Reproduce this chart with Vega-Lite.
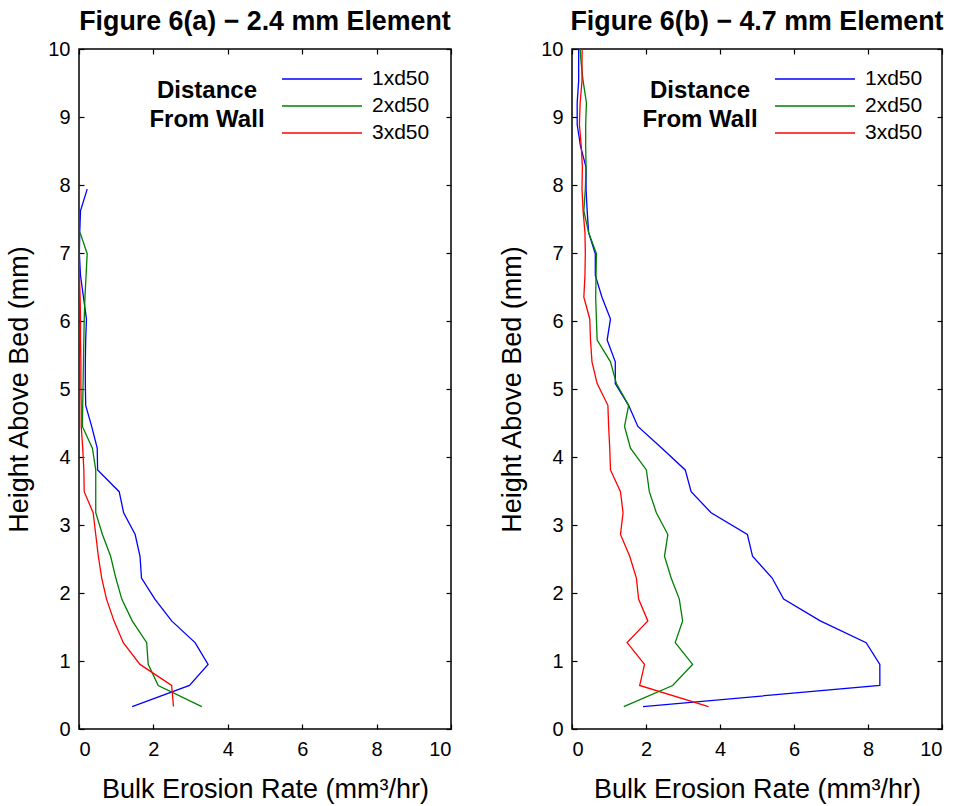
{
  "$schema": "https://vega.github.io/schema/vega-lite/v6.json",
  "background": "white",
  "padding": {"left": 5, "top": 8, "right": 5, "bottom": 2},
  "config": {
    "font": "Liberation Sans",
    "view": {"stroke": "black", "strokeWidth": 1.5},
    "axis": {"grid": false, "domain": false, "tickSize": -5, "tickColor": "black", "tickWidth": 1.2, "labelFontSize": 20, "labelColor": "black", "titleFontSize": 27, "titleFontWeight": "normal", "titleColor": "black"},
    "axisY": {"titlePadding": 14, "labelPadding": 14},
    "axisX": {"titlePadding": 17, "labelPadding": 15},
    "legend": {"orient": "none", "legendX": 70, "legendY": 19, "symbolType": "M-7,0H1", "symbolSize": 400, "symbolStrokeWidth": 1.3, "labelFontSize": 21, "labelColor": "black", "labelOffset": 9, "rowPadding": 6, "titleOrient": "left", "titleFontSize": 24, "titleFontWeight": "bold", "titleColor": "black", "titleAlign": "center", "titleLineHeight": 29, "titlePadding": 18, "titleAnchor": "middle", "titleBaseline": "middle"}
  },
  "datasets": {
    "a": [
      {"s": "1xd50", "h": 0.33, "e": 1.43}, {"s": "1xd50", "h": 0.64, "e": 2.97}, {"s": "1xd50", "h": 0.95, "e": 3.47}, {"s": "1xd50", "h": 1.27, "e": 3.12}, {"s": "1xd50", "h": 1.59, "e": 2.49}, {"s": "1xd50", "h": 1.91, "e": 2.04}, {"s": "1xd50", "h": 2.22, "e": 1.68}, {"s": "1xd50", "h": 2.54, "e": 1.64}, {"s": "1xd50", "h": 2.86, "e": 1.51}, {"s": "1xd50", "h": 3.18, "e": 1.2}, {"s": "1xd50", "h": 3.49, "e": 1.08}, {"s": "1xd50", "h": 3.81, "e": 0.5}, {"s": "1xd50", "h": 4.13, "e": 0.49}, {"s": "1xd50", "h": 4.45, "e": 0.34}, {"s": "1xd50", "h": 4.76, "e": 0.18}, {"s": "1xd50", "h": 5.08, "e": 0.17}, {"s": "1xd50", "h": 5.4, "e": 0.17}, {"s": "1xd50", "h": 5.72, "e": 0.18}, {"s": "1xd50", "h": 6.03, "e": 0.2}, {"s": "1xd50", "h": 6.35, "e": 0.12}, {"s": "1xd50", "h": 6.67, "e": 0.04}, {"s": "1xd50", "h": 6.99, "e": 0.01}, {"s": "1xd50", "h": 7.3, "e": 0.02}, {"s": "1xd50", "h": 7.62, "e": 0.04}, {"s": "1xd50", "h": 7.94, "e": 0.22},
      {"s": "2xd50", "h": 0.33, "e": 3.3}, {"s": "2xd50", "h": 0.64, "e": 2.13}, {"s": "2xd50", "h": 0.95, "e": 1.86}, {"s": "2xd50", "h": 1.27, "e": 1.82}, {"s": "2xd50", "h": 1.59, "e": 1.43}, {"s": "2xd50", "h": 1.91, "e": 1.15}, {"s": "2xd50", "h": 2.22, "e": 0.99}, {"s": "2xd50", "h": 2.54, "e": 0.85}, {"s": "2xd50", "h": 2.86, "e": 0.63}, {"s": "2xd50", "h": 3.18, "e": 0.45}, {"s": "2xd50", "h": 3.49, "e": 0.45}, {"s": "2xd50", "h": 3.81, "e": 0.45}, {"s": "2xd50", "h": 4.13, "e": 0.36}, {"s": "2xd50", "h": 4.45, "e": 0.09}, {"s": "2xd50", "h": 4.76, "e": 0.1}, {"s": "2xd50", "h": 5.08, "e": 0.11}, {"s": "2xd50", "h": 5.4, "e": 0.12}, {"s": "2xd50", "h": 5.72, "e": 0.13}, {"s": "2xd50", "h": 6.03, "e": 0.14}, {"s": "2xd50", "h": 6.35, "e": 0.16}, {"s": "2xd50", "h": 6.67, "e": 0.19}, {"s": "2xd50", "h": 6.99, "e": 0.22}, {"s": "2xd50", "h": 7.3, "e": 0.03},
      {"s": "3xd50", "h": 0.33, "e": 2.54}, {"s": "3xd50", "h": 0.64, "e": 2.49}, {"s": "3xd50", "h": 0.95, "e": 1.64}, {"s": "3xd50", "h": 1.27, "e": 1.19}, {"s": "3xd50", "h": 1.59, "e": 0.94}, {"s": "3xd50", "h": 1.91, "e": 0.74}, {"s": "3xd50", "h": 2.22, "e": 0.61}, {"s": "3xd50", "h": 2.54, "e": 0.52}, {"s": "3xd50", "h": 2.86, "e": 0.45}, {"s": "3xd50", "h": 3.18, "e": 0.38}, {"s": "3xd50", "h": 3.49, "e": 0.14}, {"s": "3xd50", "h": 3.81, "e": 0.13}, {"s": "3xd50", "h": 4.13, "e": 0.1}, {"s": "3xd50", "h": 4.45, "e": 0.06}, {"s": "3xd50", "h": 4.76, "e": 0.06}, {"s": "3xd50", "h": 5.08, "e": 0.05}, {"s": "3xd50", "h": 5.4, "e": 0.05}, {"s": "3xd50", "h": 5.72, "e": 0.04}, {"s": "3xd50", "h": 6.03, "e": 0.04}, {"s": "3xd50", "h": 6.35, "e": 0.03}, {"s": "3xd50", "h": 6.67, "e": 0.01}, {"s": "3xd50", "h": 6.99, "e": 0.0}, {"s": "3xd50", "h": 7.3, "e": 0.0}, {"s": "3xd50", "h": 7.62, "e": 0.0}, {"s": "3xd50", "h": 7.94, "e": 0.0}
    ],
    "b": [
      {"s": "1xd50", "h": 0.33, "e": 1.92}, {"s": "1xd50", "h": 0.64, "e": 8.32}, {"s": "1xd50", "h": 0.95, "e": 8.32}, {"s": "1xd50", "h": 1.27, "e": 7.95}, {"s": "1xd50", "h": 1.59, "e": 6.71}, {"s": "1xd50", "h": 1.91, "e": 5.72}, {"s": "1xd50", "h": 2.22, "e": 5.41}, {"s": "1xd50", "h": 2.54, "e": 4.88}, {"s": "1xd50", "h": 2.86, "e": 4.74}, {"s": "1xd50", "h": 3.18, "e": 3.76}, {"s": "1xd50", "h": 3.49, "e": 3.22}, {"s": "1xd50", "h": 3.81, "e": 3.06}, {"s": "1xd50", "h": 4.13, "e": 2.43}, {"s": "1xd50", "h": 4.45, "e": 1.78}, {"s": "1xd50", "h": 4.76, "e": 1.53}, {"s": "1xd50", "h": 5.08, "e": 1.17}, {"s": "1xd50", "h": 5.4, "e": 1.17}, {"s": "1xd50", "h": 5.72, "e": 0.95}, {"s": "1xd50", "h": 6.03, "e": 1.04}, {"s": "1xd50", "h": 6.35, "e": 0.81}, {"s": "1xd50", "h": 6.67, "e": 0.63}, {"s": "1xd50", "h": 6.99, "e": 0.63}, {"s": "1xd50", "h": 7.3, "e": 0.45}, {"s": "1xd50", "h": 7.62, "e": 0.41}, {"s": "1xd50", "h": 7.94, "e": 0.38}, {"s": "1xd50", "h": 8.26, "e": 0.38}, {"s": "1xd50", "h": 8.57, "e": 0.23}, {"s": "1xd50", "h": 8.89, "e": 0.14}, {"s": "1xd50", "h": 9.21, "e": 0.14}, {"s": "1xd50", "h": 9.53, "e": 0.18}, {"s": "1xd50", "h": 9.84, "e": 0.18}, {"s": "1xd50", "h": 10.16, "e": 0.18},
      {"s": "2xd50", "h": 0.33, "e": 1.4}, {"s": "2xd50", "h": 0.64, "e": 2.72}, {"s": "2xd50", "h": 0.95, "e": 3.26}, {"s": "2xd50", "h": 1.27, "e": 2.79}, {"s": "2xd50", "h": 1.59, "e": 2.99}, {"s": "2xd50", "h": 1.91, "e": 2.9}, {"s": "2xd50", "h": 2.22, "e": 2.68}, {"s": "2xd50", "h": 2.54, "e": 2.5}, {"s": "2xd50", "h": 2.86, "e": 2.59}, {"s": "2xd50", "h": 3.18, "e": 2.28}, {"s": "2xd50", "h": 3.49, "e": 2.09}, {"s": "2xd50", "h": 3.81, "e": 2.01}, {"s": "2xd50", "h": 4.13, "e": 1.58}, {"s": "2xd50", "h": 4.45, "e": 1.42}, {"s": "2xd50", "h": 4.76, "e": 1.53}, {"s": "2xd50", "h": 5.08, "e": 1.2}, {"s": "2xd50", "h": 5.4, "e": 1.04}, {"s": "2xd50", "h": 5.72, "e": 0.68}, {"s": "2xd50", "h": 6.03, "e": 0.66}, {"s": "2xd50", "h": 6.35, "e": 0.64}, {"s": "2xd50", "h": 6.67, "e": 0.65}, {"s": "2xd50", "h": 6.99, "e": 0.66}, {"s": "2xd50", "h": 7.3, "e": 0.45}, {"s": "2xd50", "h": 7.62, "e": 0.32}, {"s": "2xd50", "h": 7.94, "e": 0.36}, {"s": "2xd50", "h": 8.26, "e": 0.38}, {"s": "2xd50", "h": 8.57, "e": 0.37}, {"s": "2xd50", "h": 8.89, "e": 0.37}, {"s": "2xd50", "h": 9.21, "e": 0.39}, {"s": "2xd50", "h": 9.53, "e": 0.3}, {"s": "2xd50", "h": 9.84, "e": 0.24}, {"s": "2xd50", "h": 10.16, "e": 0.2},
      {"s": "3xd50", "h": 0.33, "e": 3.69}, {"s": "3xd50", "h": 0.64, "e": 1.83}, {"s": "3xd50", "h": 0.95, "e": 1.96}, {"s": "3xd50", "h": 1.27, "e": 1.49}, {"s": "3xd50", "h": 1.59, "e": 2.05}, {"s": "3xd50", "h": 1.91, "e": 1.8}, {"s": "3xd50", "h": 2.22, "e": 1.74}, {"s": "3xd50", "h": 2.54, "e": 1.56}, {"s": "3xd50", "h": 2.86, "e": 1.31}, {"s": "3xd50", "h": 3.18, "e": 1.38}, {"s": "3xd50", "h": 3.49, "e": 1.31}, {"s": "3xd50", "h": 3.81, "e": 1.04}, {"s": "3xd50", "h": 4.13, "e": 1.02}, {"s": "3xd50", "h": 4.45, "e": 0.99}, {"s": "3xd50", "h": 4.76, "e": 0.97}, {"s": "3xd50", "h": 5.08, "e": 0.68}, {"s": "3xd50", "h": 5.4, "e": 0.54}, {"s": "3xd50", "h": 5.72, "e": 0.5}, {"s": "3xd50", "h": 6.03, "e": 0.48}, {"s": "3xd50", "h": 6.35, "e": 0.32}, {"s": "3xd50", "h": 6.67, "e": 0.35}, {"s": "3xd50", "h": 6.99, "e": 0.36}, {"s": "3xd50", "h": 7.3, "e": 0.35}, {"s": "3xd50", "h": 7.62, "e": 0.3}, {"s": "3xd50", "h": 7.94, "e": 0.27}, {"s": "3xd50", "h": 8.26, "e": 0.28}, {"s": "3xd50", "h": 8.57, "e": 0.25}, {"s": "3xd50", "h": 8.89, "e": 0.2}, {"s": "3xd50", "h": 9.21, "e": 0.22}, {"s": "3xd50", "h": 9.53, "e": 0.27}, {"s": "3xd50", "h": 9.84, "e": 0.27}, {"s": "3xd50", "h": 10.16, "e": 0.28}
    ]
  },
  "spacing": 45,
  "resolve": {"scale": {"color": "independent"}, "legend": {"color": "independent"}},
  "hconcat": [
    {
      "title": {"text": "Figure 6(a) − 2.4 mm Element", "fontSize": 26.8, "fontWeight": "bold", "offset": 3, "anchor": "middle", "color": "black"},
      "width": 372, "height": 680,
      "data": {"name": "a"},
      "resolve": {"axis": {"x": "independent", "y": "independent"}},
      "layer": [
        {
          "mark": {"type": "line", "strokeWidth": 1.3, "clip": true},
          "encoding": {
            "x": {"field": "e", "type": "quantitative", "scale": {"domain": [0, 10], "nice": false}, "axis": {"title": "Bulk Erosion Rate (mm³/hr)", "values": [0, 2, 4, 6, 8, 10]}},
            "y": {"field": "h", "type": "quantitative", "scale": {"domain": [0, 10], "nice": false}, "axis": {"title": "Height Above Bed (mm)", "values": [0, 1, 2, 3, 4, 5, 6, 7, 8, 9, 10]}},
            "color": {"field": "s", "type": "nominal", "scale": {"domain": ["1xd50", "2xd50", "3xd50"], "range": ["#0000ff", "#008000", "#ff0000"]}, "legend": {"title": ["Distance", "From Wall"]}},
            "order": {"field": "h", "type": "quantitative"}
          }
        },
        {
          "mark": {"type": "line", "opacity": 0, "clip": true},
          "encoding": {
            "x": {"field": "e", "type": "quantitative", "scale": {"domain": [0, 10], "nice": false}, "axis": {"orient": "top", "labels": false, "title": null, "values": [0, 2, 4, 6, 8, 10]}},
            "y": {"field": "h", "type": "quantitative", "scale": {"domain": [0, 10], "nice": false}, "axis": {"orient": "right", "labels": false, "title": null, "values": [0, 1, 2, 3, 4, 5, 6, 7, 8, 9, 10]}},
            "detail": {"field": "s", "type": "nominal"},
            "order": {"field": "h", "type": "quantitative"}
          }
        }
      ]
    },
    {
      "title": {"text": "Figure 6(b) − 4.7 mm Element", "fontSize": 26.8, "fontWeight": "bold", "offset": 3, "anchor": "middle", "color": "black"},
      "width": 370, "height": 680,
      "data": {"name": "b"},
      "resolve": {"axis": {"x": "independent", "y": "independent"}},
      "layer": [
        {
          "mark": {"type": "line", "strokeWidth": 1.3, "clip": true},
          "encoding": {
            "x": {"field": "e", "type": "quantitative", "scale": {"domain": [0, 10], "nice": false}, "axis": {"title": "Bulk Erosion Rate (mm³/hr)", "values": [0, 2, 4, 6, 8, 10]}},
            "y": {"field": "h", "type": "quantitative", "scale": {"domain": [0, 10], "nice": false}, "axis": {"title": "Height Above Bed (mm)", "values": [0, 1, 2, 3, 4, 5, 6, 7, 8, 9, 10]}},
            "color": {"field": "s", "type": "nominal", "scale": {"domain": ["1xd50", "2xd50", "3xd50"], "range": ["#0000ff", "#008000", "#ff0000"]}, "legend": {"title": ["Distance", "From Wall"]}},
            "order": {"field": "h", "type": "quantitative"}
          }
        },
        {
          "mark": {"type": "line", "opacity": 0, "clip": true},
          "encoding": {
            "x": {"field": "e", "type": "quantitative", "scale": {"domain": [0, 10], "nice": false}, "axis": {"orient": "top", "labels": false, "title": null, "values": [0, 2, 4, 6, 8, 10]}},
            "y": {"field": "h", "type": "quantitative", "scale": {"domain": [0, 10], "nice": false}, "axis": {"orient": "right", "labels": false, "title": null, "values": [0, 1, 2, 3, 4, 5, 6, 7, 8, 9, 10]}},
            "detail": {"field": "s", "type": "nominal"},
            "order": {"field": "h", "type": "quantitative"}
          }
        }
      ]
    }
  ]
}
